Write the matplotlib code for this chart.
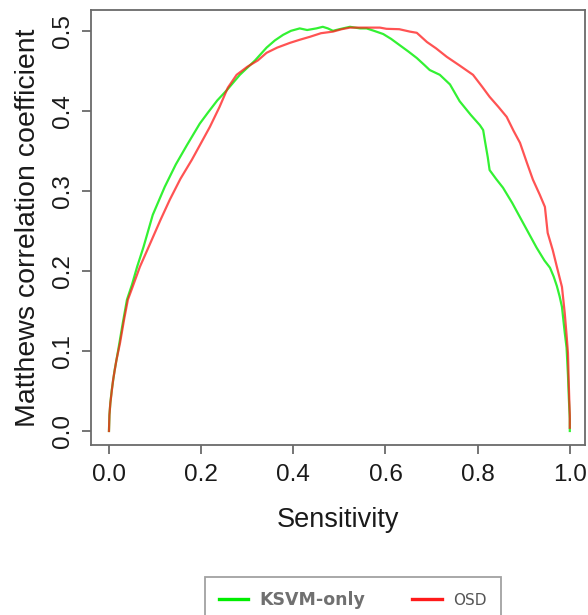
import matplotlib
matplotlib.use("Agg")
import matplotlib.pyplot as plt
from matplotlib.lines import Line2D

# KSVM-only curve (green)
ksvm_sens = [0, 0.001, 0.003, 0.006, 0.012, 0.02, 0.03, 0.039, 0.05, 0.061, 0.075, 0.095,
             0.121, 0.145, 0.169, 0.197, 0.215, 0.235, 0.256, 0.284, 0.317, 0.342, 0.36,
             0.378, 0.395, 0.414, 0.43, 0.45, 0.464, 0.475, 0.486, 0.5, 0.523, 0.545,
             0.559, 0.575, 0.595, 0.612, 0.631, 0.65, 0.668, 0.685, 0.696, 0.718, 0.74,
             0.761, 0.785, 0.805, 0.812, 0.816, 0.822, 0.826, 0.84, 0.855, 0.875, 0.892,
             0.91, 0.928, 0.945, 0.957, 0.965, 0.972, 0.978, 0.983, 0.989, 0.993, 0.996,
             0.998, 1.0, 1.0]
ksvm_mcc = [0, 0.02, 0.035, 0.051, 0.075, 0.101, 0.135, 0.164, 0.183, 0.205, 0.23, 0.27,
            0.305, 0.333, 0.357, 0.384, 0.398, 0.413, 0.426, 0.445, 0.463, 0.479, 0.488,
            0.495, 0.5, 0.503, 0.501, 0.503, 0.505, 0.503, 0.5, 0.502, 0.505, 0.503,
            0.503, 0.5, 0.496, 0.49, 0.482, 0.474, 0.466, 0.457, 0.451, 0.445, 0.433,
            0.412, 0.395, 0.382, 0.376, 0.362, 0.342, 0.326, 0.315, 0.304, 0.285, 0.267,
            0.248, 0.229, 0.213, 0.204, 0.193, 0.181, 0.168, 0.155, 0.123, 0.104, 0.07,
            0.04, 0.015, 0.0]

# OSD curve (red)
osd_sens = [0, 0.001, 0.003, 0.009, 0.016, 0.024, 0.033, 0.041, 0.05, 0.067, 0.08, 0.093,
            0.112, 0.132, 0.155, 0.18, 0.2, 0.219, 0.24, 0.258, 0.277, 0.3, 0.323, 0.342,
            0.365, 0.393, 0.415, 0.436, 0.46, 0.486, 0.505, 0.523, 0.559, 0.588, 0.602,
            0.63, 0.653, 0.668, 0.69, 0.71, 0.733, 0.76, 0.79, 0.81, 0.826, 0.845, 0.863,
            0.878, 0.892, 0.907, 0.92, 0.935, 0.946, 0.952, 0.963, 0.972, 0.983, 0.989,
            0.993, 0.996, 0.998, 1.0, 1.0]
osd_mcc = [0, 0.02, 0.035, 0.064, 0.088, 0.11, 0.14, 0.164, 0.178, 0.205, 0.222, 0.239,
           0.264, 0.289, 0.315, 0.339, 0.36, 0.38, 0.405, 0.429, 0.445, 0.455, 0.463, 0.4725,
           0.479, 0.485, 0.489, 0.4925, 0.497, 0.499, 0.502, 0.504, 0.504, 0.504, 0.5025,
           0.502, 0.499, 0.4975, 0.486, 0.478, 0.4675, 0.457, 0.445, 0.43, 0.4175, 0.405, 0.3925,
           0.375, 0.36, 0.335, 0.314, 0.295, 0.28, 0.2475, 0.226, 0.205, 0.18, 0.1475,
           0.12, 0.0975, 0.055, 0.02, 0.004]

ticks = [0.0, 0.1, 0.2, 0.3, 0.4, 0.5]
xticks = [0.0, 0.2, 0.4, 0.6, 0.8, 1.0]

GREEN = '#00ee00'
RED = '#ff1a1a'
BOX = '#6a6a6a'

plt.rcParams['font.family'] = ['Liberation Sans', 'DejaVu Sans']

fig = plt.figure(figsize=(5.88, 6.15), dpi=100)
ax = fig.add_axes([91 / 588, 1 - 445 / 615, (585 - 91) / 588, (445 - 10) / 615])

ax.plot(ksvm_sens, ksvm_mcc, color=GREEN, lw=1.6, alpha=0.8)
ax.plot(osd_sens, osd_mcc, color=RED, lw=1.6, alpha=0.75)

ax.set_xlim(-0.039, 1.033)
ax.set_ylim(-0.0175, 0.526)
ax.set_xticks(xticks)
ax.set_xticklabels([f'{t:.1f}' for t in xticks])
ax.set_yticks(ticks)
ax.set_yticklabels([f'{t:.1f}' for t in ticks], rotation=90, va='center')

for s in ax.spines.values():
    s.set_color(BOX)
    s.set_linewidth(1.3)
ax.tick_params(direction='out', length=6.5, width=1.3, color=BOX,
               labelsize=17.5, labelcolor='#1a1a1a')
ax.tick_params(axis='x', pad=7)
ax.tick_params(axis='y', pad=6)

ax.set_xlabel('Sensitivity', fontsize=19.5, color='#1a1a1a', labelpad=15)
ax.set_ylabel('Matthews correlation coefficient', fontsize=20.5, color='#1a1a1a', labelpad=8)

handles = [Line2D([], [], color=GREEN, lw=2.4), Line2D([], [], color=RED, lw=2.4)]
leg = fig.legend(handles, ['KSVM-only', 'OSD'], loc='upper left',
                 bbox_to_anchor=(205 / 588, 1 - 577 / 615), bbox_transform=fig.transFigure,
                 ncol=2, frameon=True, fancybox=False, borderaxespad=0,
                 borderpad=0.8, handlelength=1.7, handletextpad=0.65, columnspacing=2.7,
                 prop={'family': 'DejaVu Sans', 'size': 12.5})
leg.get_frame().set_edgecolor('#8a8a8a')
leg.get_frame().set_linewidth(1.3)
t0, t1 = leg.get_texts()
t0.set_fontweight('bold')
t0.set_color('#707070')
t1.set_color('#555555')
t1.set_fontsize(11)

fig.savefig('out.png', dpi=100, facecolor='white')
